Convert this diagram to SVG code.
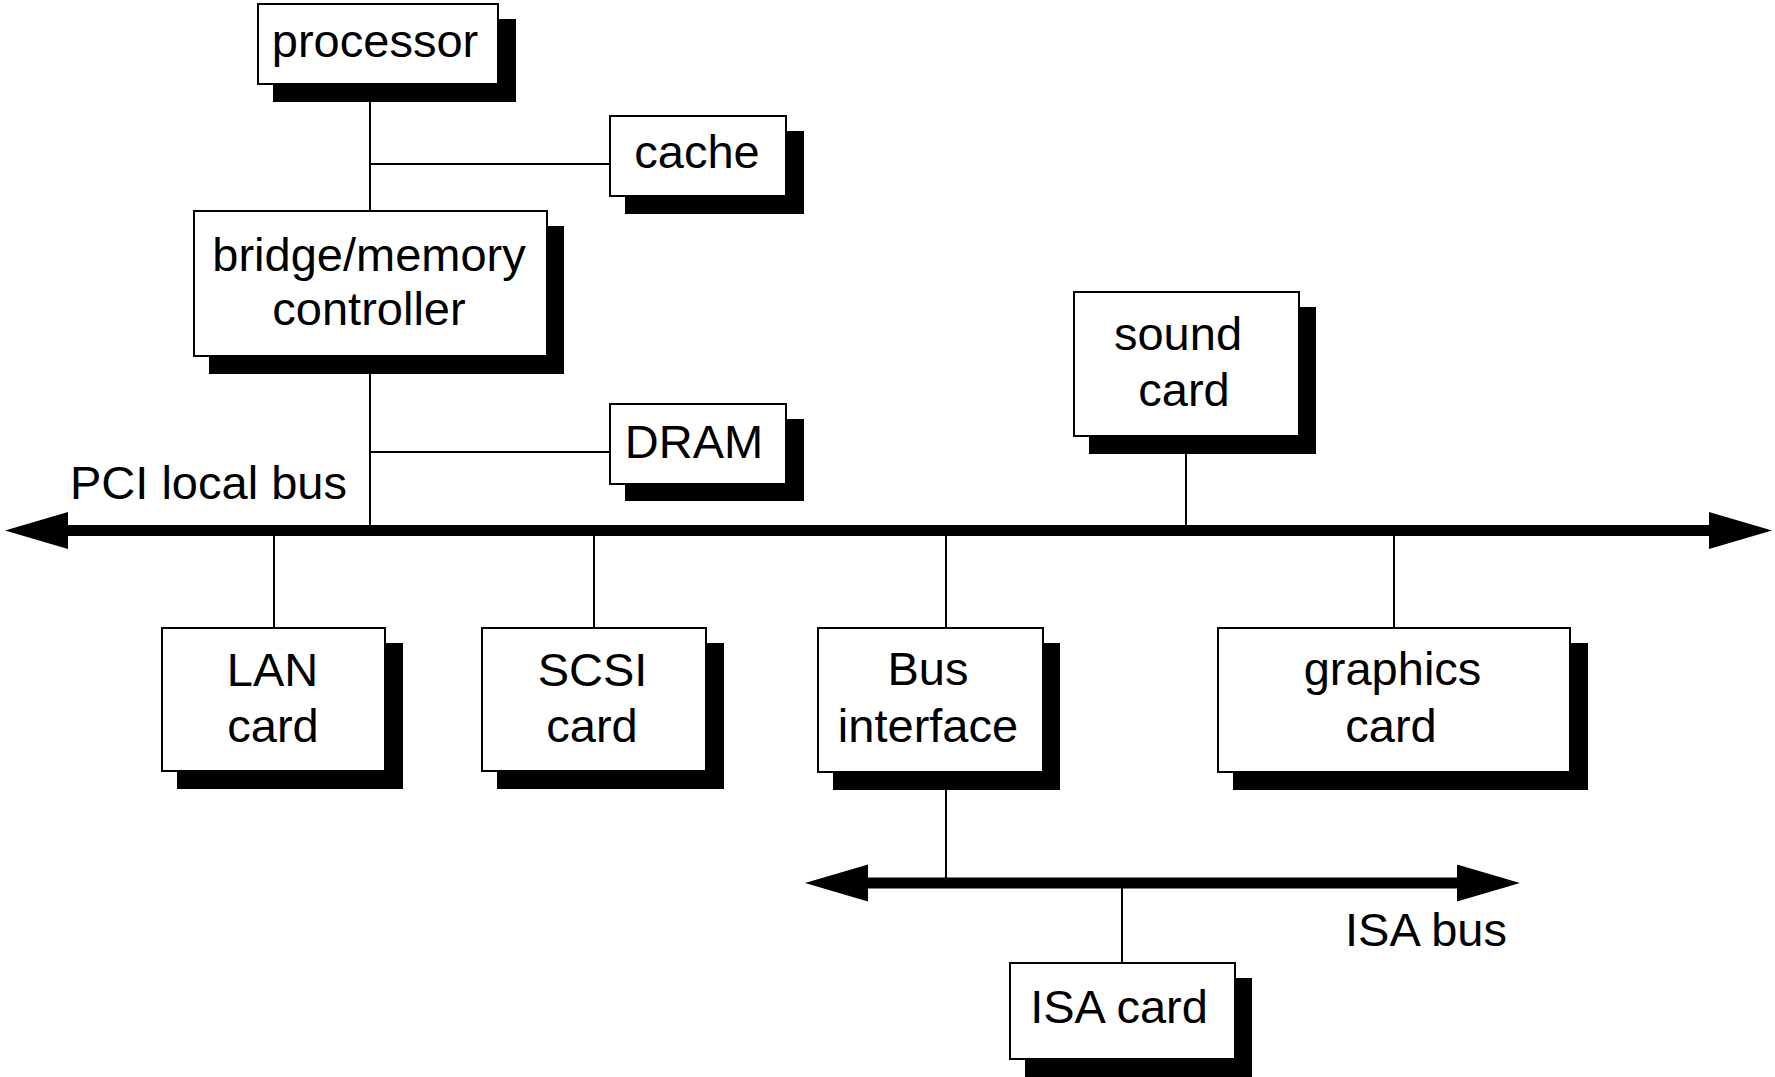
<svg xmlns="http://www.w3.org/2000/svg" width="1775" height="1077" viewBox="0 0 1775 1077">
  <style>
    .box { fill: #fff; stroke: #000; stroke-width: 2; }
    .shadow { fill: #000; }
    .wire { stroke: #000; stroke-width: 2; fill: none; }
    .bus { stroke: #000; stroke-width: 11; fill: none; marker-start: url(#head); marker-end: url(#head); }
    text { font-family: "Liberation Sans", Arial, Helvetica, sans-serif; font-size: 47px; fill: #000; }
    .c { text-anchor: middle; }
  </style>
  <defs>
    <marker id="head" markerUnits="userSpaceOnUse" markerWidth="64" markerHeight="38" refX="0" refY="18.5" orient="auto-start-reverse" viewBox="0 0 64 38">
      <path d="M0,0 L63,18.5 L0,37 Z" fill="#000"/>
    </marker>
  </defs>
  <rect width="1775" height="1077" fill="#fff"/>

  <!-- connectors and buses -->
  <g id="connectors">
    <line class="wire" x1="370" y1="84" x2="370" y2="211"/>
    <line class="wire" x1="370" y1="164" x2="610" y2="164"/>
    <line class="wire" x1="370" y1="356" x2="370" y2="530"/>
    <line class="wire" x1="370" y1="452" x2="610" y2="452"/>
    <line class="wire" x1="1186" y1="436" x2="1186" y2="530"/>
    <line class="wire" x1="274" y1="530" x2="274" y2="628"/>
    <line class="wire" x1="594" y1="530" x2="594" y2="628"/>
    <line class="wire" x1="946" y1="530" x2="946" y2="628"/>
    <line class="wire" x1="1394" y1="530" x2="1394" y2="628"/>
    <line class="wire" x1="946" y1="772" x2="946" y2="883"/>
    <line class="wire" x1="1122" y1="883" x2="1122" y2="963"/>
    <path id="pci-bus" class="bus" d="M68,530.5 H1709"/>
    <path id="isa-bus" class="bus" d="M868,883 H1457"/>
  </g>

  <g id="pci-label"><text x="70" y="499">PCI local bus</text></g>
  <g id="isa-label"><text x="1345" y="946">ISA bus</text></g>

  <g id="processor">
    <rect class="shadow" x="273" y="19" width="243" height="83"/>
    <rect class="box" x="258" y="4" width="240" height="80"/>
    <text class="c" x="375" y="57">processor</text>
  </g>

  <g id="cache">
    <rect class="shadow" x="625" y="131" width="179" height="83"/>
    <rect class="box" x="610" y="116" width="176" height="80"/>
    <text class="c" x="697" y="168">cache</text>
  </g>

  <g id="bridge">
    <rect class="shadow" x="209" y="226" width="355" height="148"/>
    <rect class="box" x="194" y="211" width="353" height="145"/>
    <text class="c" x="369" y="271">bridge/memory</text>
    <text class="c" x="369" y="325">controller</text>
  </g>

  <g id="dram">
    <rect class="shadow" x="625" y="419" width="179" height="82"/>
    <rect class="box" x="610" y="404" width="176" height="80"/>
    <text class="c" x="694" y="458">DRAM</text>
  </g>

  <g id="sound-card">
    <rect class="shadow" x="1089" y="307" width="227" height="147"/>
    <rect class="box" x="1074" y="292" width="225" height="144"/>
    <text class="c" x="1178" y="350">sound</text>
    <text class="c" x="1184" y="406">card</text>
  </g>

  <g id="lan-card">
    <rect class="shadow" x="177" y="643" width="226" height="146"/>
    <rect class="box" x="162" y="628" width="223" height="143"/>
    <text class="c" x="272.5" y="686">LAN</text>
    <text class="c" x="273" y="742">card</text>
  </g>

  <g id="scsi-card">
    <rect class="shadow" x="497" y="643" width="227" height="146"/>
    <rect class="box" x="482" y="628" width="224" height="143"/>
    <text class="c" x="592.5" y="686">SCSI</text>
    <text class="c" x="592" y="742">card</text>
  </g>

  <g id="bus-interface">
    <rect class="shadow" x="833" y="643" width="227" height="147"/>
    <rect class="box" x="818" y="628" width="225" height="144"/>
    <text class="c" x="928" y="685">Bus</text>
    <text class="c" x="928" y="742">interface</text>
  </g>

  <g id="graphics-card">
    <rect class="shadow" x="1233" y="643" width="355" height="147"/>
    <rect class="box" x="1218" y="628" width="352" height="144"/>
    <text class="c" x="1392.5" y="685">graphics</text>
    <text class="c" x="1391" y="742">card</text>
  </g>

  <g id="isa-card">
    <rect class="shadow" x="1025" y="978" width="227" height="99"/>
    <rect class="box" x="1010" y="963" width="225" height="96"/>
    <text class="c" x="1119" y="1023">ISA card</text>
  </g>
</svg>
